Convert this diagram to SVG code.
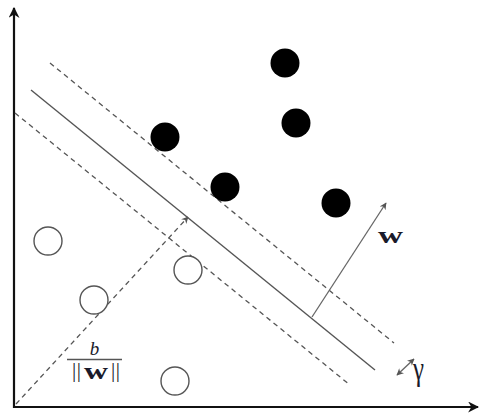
<svg xmlns="http://www.w3.org/2000/svg" width="480" height="413" viewBox="0 0 480 413">
  <style>
    .axis { stroke: #111; stroke-width: 2.2; fill: none; }
    .sep { stroke: #555; stroke-width: 1.4; fill: none; }
    .margin { stroke: #555; stroke-width: 1.3; fill: none; stroke-dasharray: 5 4; }
    .vec { stroke: #666; stroke-width: 1.3; fill: none; }
    .pos { fill: #000; }
    .neg { fill: #fff; stroke: #555; stroke-width: 1.4; }
    .lbl { font-family: "Liberation Serif", "DejaVu Serif", serif; fill: #1a1a2a; }
  </style>
  <defs>
    <marker id="axisHead" viewBox="0 0 10 10" refX="9" refY="5" markerWidth="5" markerHeight="5" orient="auto">
      <path d="M0,0 L10,5 L0,10 L3,5 Z" fill="#111"/>
    </marker>
    <marker id="thinHead" viewBox="0 0 10 10" refX="9" refY="5" markerWidth="7" markerHeight="7" orient="auto-start-reverse" markerUnits="userSpaceOnUse">
      <path d="M0,0 L10,5 L0,10 L3,5 Z" fill="#555"/>
    </marker>
  </defs>

  <!-- axes -->
  <g id="axes">
    <line class="axis" x1="14" y1="408" x2="14" y2="8" marker-end="url(#axisHead)"/>
    <line class="axis" x1="13" y1="407" x2="478" y2="407" marker-end="url(#axisHead)"/>
  </g>

  <!-- separating hyperplane and margins -->
  <g id="connectors">
    <line class="sep" x1="31" y1="90" x2="375" y2="370"/>
    <line class="margin" x1="50" y1="63" x2="394" y2="343"/>
    <line class="margin" x1="15" y1="113" x2="350" y2="385"/>
    <!-- normal vector w -->
    <line class="vec" x1="312" y1="317" x2="386" y2="203" marker-end="url(#thinHead)"/>
    <!-- offset b/||w|| from origin -->
    <line class="margin" x1="16" y1="404" x2="188" y2="217" marker-end="url(#thinHead)"/>
    <!-- margin width gamma -->
    <line class="vec" x1="397" y1="375" x2="414" y2="359" marker-start="url(#thinHead)" marker-end="url(#thinHead)"/>
  </g>

  <!-- positive samples -->
  <g id="positives">
    <circle class="pos" cx="285" cy="63" r="14.5"/>
    <circle class="pos" cx="296" cy="123" r="14.5"/>
    <circle class="pos" cx="165" cy="137" r="14.5"/>
    <circle class="pos" cx="225" cy="187" r="14.5"/>
    <circle class="pos" cx="336" cy="203" r="14.5"/>
  </g>

  <!-- negative samples -->
  <g id="negatives">
    <circle class="neg" cx="48" cy="241" r="14"/>
    <circle class="neg" cx="94" cy="300" r="14"/>
    <circle class="neg" cx="188" cy="270" r="14"/>
    <circle class="neg" cx="175" cy="381" r="14"/>
  </g>

  <!-- labels -->
  <g id="labels">
    <text class="lbl" x="378" y="243" font-size="24" font-weight="bold" textLength="25" lengthAdjust="spacingAndGlyphs">w</text>
    <text class="lbl" x="413" y="380" font-size="34" textLength="11" lengthAdjust="spacingAndGlyphs">γ</text>
    <text class="lbl" x="94.5" y="355" font-size="19" font-style="italic" text-anchor="middle">b</text>
    <line x1="67" y1="359.5" x2="122" y2="359.5" stroke="#555" stroke-width="1.4"/>
    <text class="lbl" x="72" y="377" font-size="21" textLength="9" lengthAdjust="spacing">||</text>
    <text class="lbl" x="84" y="379" font-size="24" font-weight="bold" textLength="24" lengthAdjust="spacingAndGlyphs">w</text>
    <text class="lbl" x="111" y="377" font-size="21" textLength="9" lengthAdjust="spacing">||</text>
  </g>
</svg>
